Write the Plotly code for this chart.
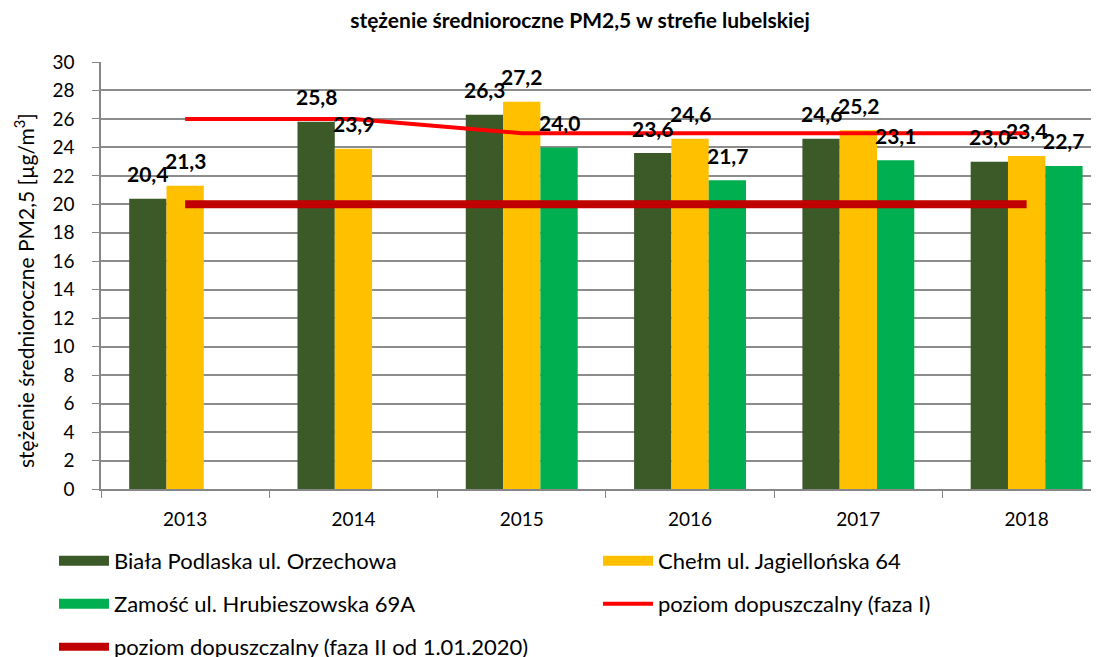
import plotly.graph_objects as go

years = ["2013", "2014", "2015", "2016", "2017", "2018"]
biala = [20.4, 25.8, 26.3, 23.6, 24.6, 23.0]
chelm = [21.3, 23.9, 27.2, 24.6, 25.2, 23.4]
zamosc = [None, None, 24.0, 21.7, 23.1, 22.7]
limit_f1 = [26, 26, 25, 25, 25, 25]
limit_f2 = [20, 20, 20, 20, 20, 20]

names = ["Biała Podlaska ul. Orzechowa", "Chełm ul. Jagiellońska 64", "Zamość ul. Hrubieszowska 69A",
         "poziom dopuszczalny (faza I)", "poziom dopuszczalny (faza II od 1.01.2020)"]
colors = ["#3C5A27", "#FFC000", "#00B050", "#FF0000", "#C00000"]
y_title = "stężenie średnioroczne PM2,5 [µg/m<sup>3</sup>]"

FONT = "Lato, Liberation Sans, sans-serif"
BARGAP = 0.335
W = (1 - BARGAP) / 3
FIG_W, FIG_H = 1091, 649  # page body has an 8px margin
ML, MT, MB = 93, 54, 168

fig = go.Figure()
series = [biala, chelm, zamosc]
for j, (vals, nm, col) in enumerate(zip(series, names[:3], colors[:3])):
    fig.add_trace(go.Bar(x=years, y=vals, name=nm, marker=dict(color=col, line=dict(width=0)),
                         showlegend=False))

fig.add_trace(go.Scatter(x=years, y=limit_f1, mode="lines", name=names[3],
                         line=dict(color=colors[3], width=4), legend="legend4"))
fig.add_trace(go.Scatter(x=years, y=limit_f2, mode="lines", name=names[4],
                         line=dict(color=colors[4], width=8), legend="legend5"))

# legend proxies for bar series
legmap = ["legend", "legend2", "legend3"]
for j in range(3):
    fig.add_trace(go.Scatter(x=[None], y=[None], mode="lines", name=names[j],
                             line=dict(color=colors[j], width=16), legend=legmap[j]))

annotations = []
for j, vals in enumerate(series):
    for i, v in enumerate(vals):
        if v is None:
            continue
        annotations.append(dict(x=i + (j - 1) * W, y=v, xref="x", yref="y",
                                text=f"{v:.1f}".replace(".", ","), showarrow=False,
                                yanchor="middle", yshift=25,
                                font=dict(family=FONT, size=21, color="black", weight="bold")))

plot_w = FIG_W - ML
plot_h = FIG_H - MT - MB
annotations.append(dict(text=y_title, textangle=-90, showarrow=False, xref="paper", yref="paper",
                        x=(16 - ML) / plot_w, y=(plot_h + MT - 283) / plot_h,
                        xanchor="center", yanchor="middle",
                        font=dict(family=FONT, size=21, color="black")))


def leg(xp, yp):
    return dict(orientation="v", xref="container", yref="container", x=xp / FIG_W,
                y=1 - yp / FIG_H, yanchor="middle", xanchor="left",
                itemwidth=50, font=dict(size=22), bgcolor="rgba(0,0,0,0)")


fig.update_layout(
    width=FIG_W, height=FIG_H,
    margin=dict(l=ML, r=0, t=MT, b=MB, autoexpand=False),
    paper_bgcolor="white", plot_bgcolor="white",
    barmode="group", bargap=BARGAP, bargroupgap=0,
    font=dict(family=FONT, size=19, color="black"),
    title=dict(text="<b>stężenie średnioroczne PM2,5 w strefie lubelskiej</b>",
               x=572 / FIG_W, xanchor="center", y=1 - 13 / FIG_H, yanchor="middle",
               yref="container", font=dict(family=FONT, size=21, color="black")),
    xaxis=dict(type="category", range=[-0.5, 5.43], showgrid=False, ticks="outside",
               tickson="boundaries", ticklen=7, tickcolor="#868686", showline=True,
               linecolor="#868686", linewidth=1.5, ticklabelstandoff=12,
               tickfont=dict(size=19), automargin=False),
    yaxis=dict(range=[0, 30], dtick=2, showgrid=True, gridcolor="#8C8C8C", gridwidth=1.5,
               ticks="outside", ticklen=7, tickcolor="#868686", showline=True,
               linecolor="#868686", linewidth=1.5, zeroline=False, tickfont=dict(size=19),
               ticklabelstandoff=14, automargin=False),
    legend=leg(46, 553),
    legend2=leg(590, 553),
    legend3=leg(46, 596),
    legend4=leg(590, 596),
    legend5=leg(46, 639),
    annotations=annotations,
)

fig.write_html("out.html")
